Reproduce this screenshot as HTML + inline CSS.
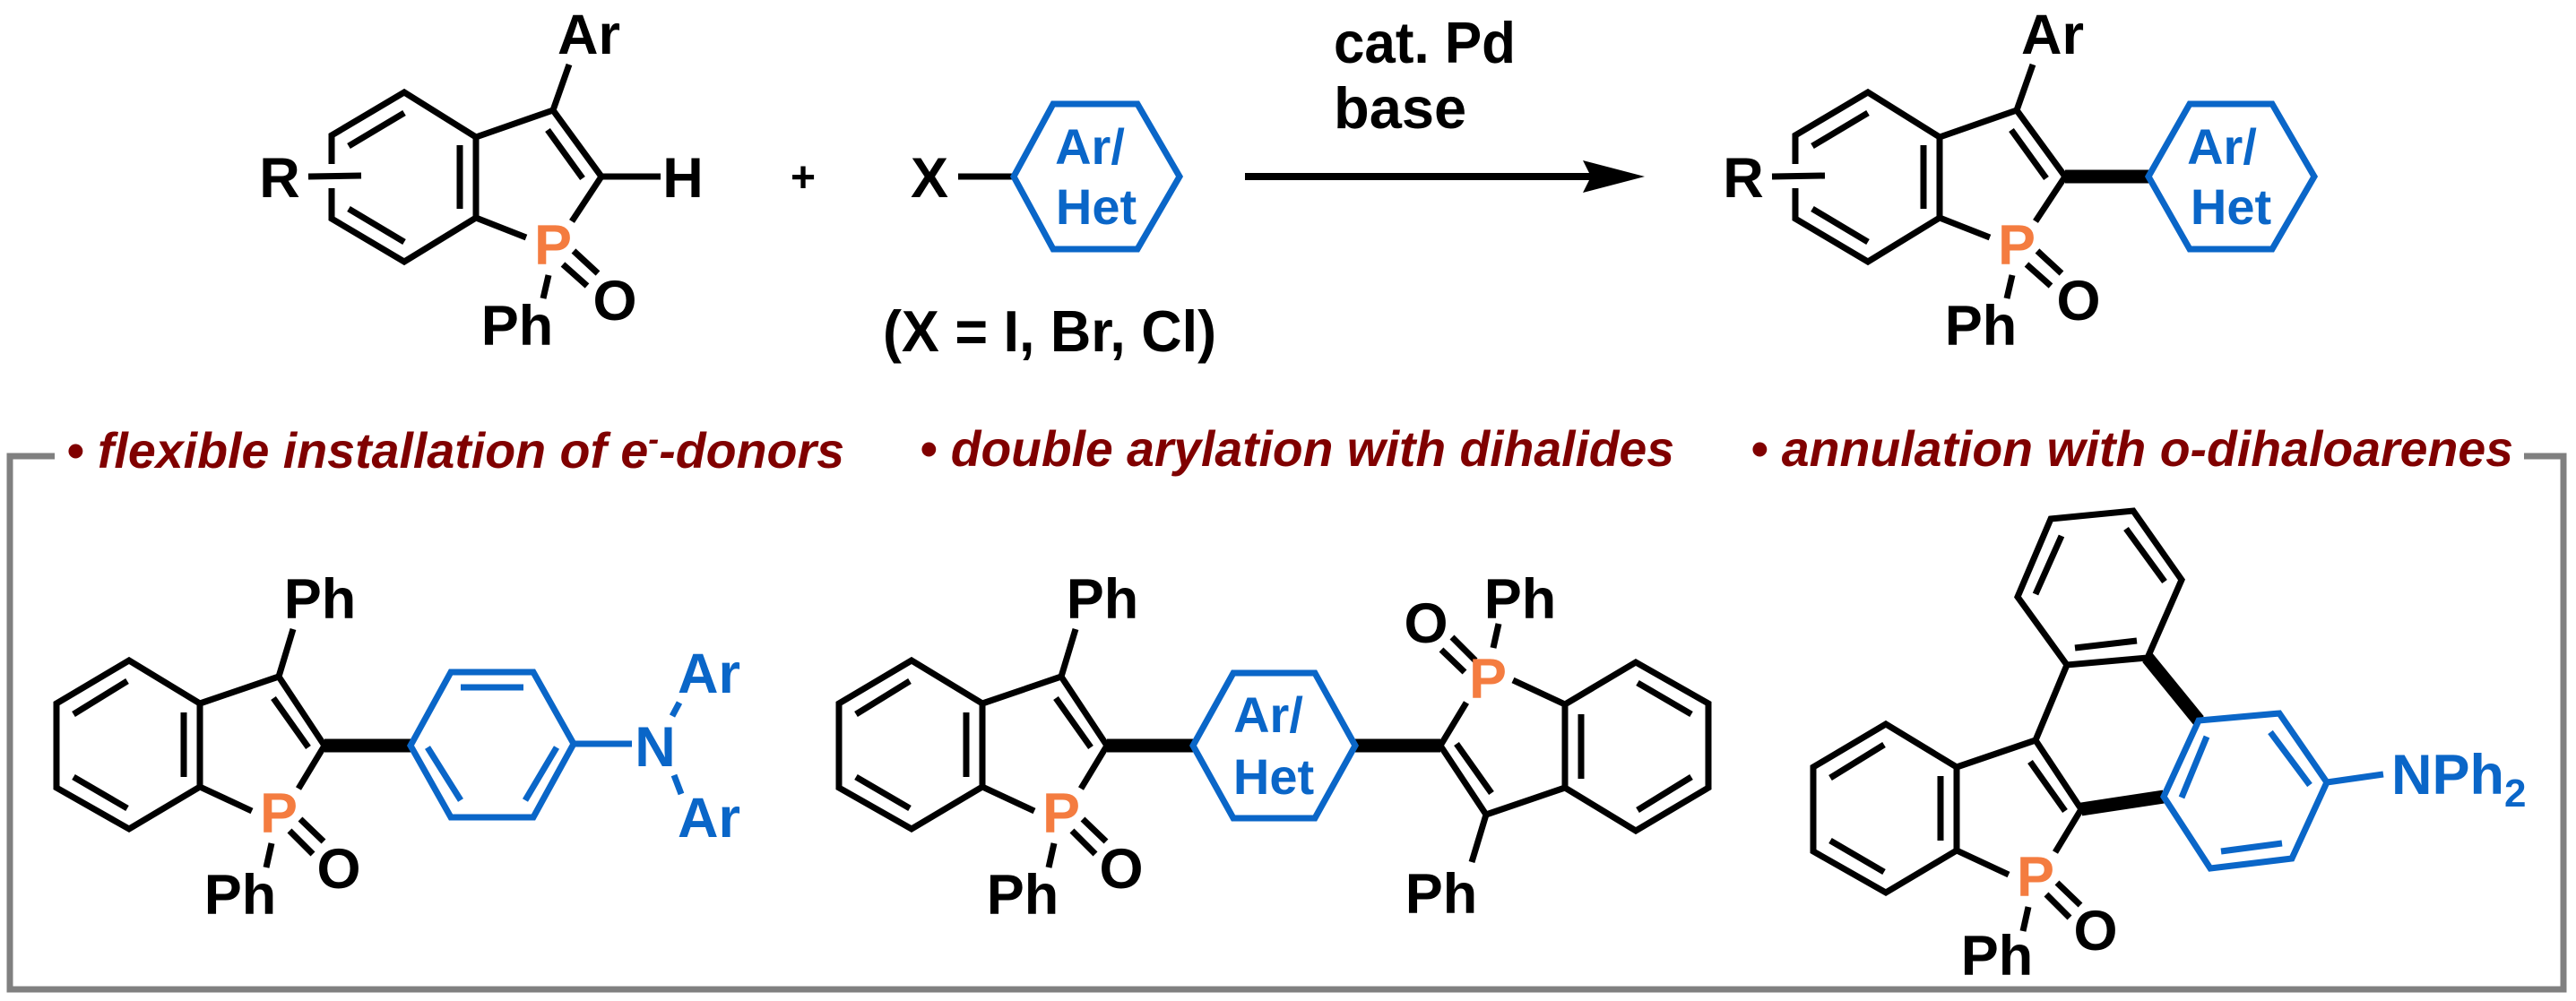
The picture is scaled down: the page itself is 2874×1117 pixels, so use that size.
<!DOCTYPE html>
<html><head><meta charset="utf-8"><style>
html,body{margin:0;padding:0;background:#fff;}
svg{display:block}
text{font-family:"Liberation Sans",Arial,sans-serif;font-weight:bold;}
</style></head><body>
<svg width="2874" height="1117" viewBox="0 0 2874 1117" xmlns="http://www.w3.org/2000/svg">
<defs>
<g id="indT">
 <polyline points="370,183 370,151 451,103 531,153 531,243 451,292 370,244 370,210" fill="none"/>
 <line x1="389" y1="163" x2="451" y2="126"/>
 <line x1="513" y1="162" x2="513" y2="233"/>
 <line x1="389" y1="233" x2="451" y2="270"/>
 <line x1="344" y1="197" x2="403" y2="196"/>
 <line x1="531" y1="153" x2="617" y2="123"/>
 <line x1="617" y1="123" x2="671" y2="197"/>
 <line x1="611" y1="145" x2="650" y2="199"/>
 <line x1="671" y1="197" x2="638" y2="247"/>
 <line x1="531" y1="243" x2="587" y2="265"/>
 <line x1="617" y1="123" x2="635" y2="72"/>
 <line x1="612" y1="307" x2="606" y2="333"/>
 <line x1="628" y1="295" x2="655" y2="319"/>
 <line x1="640" y1="280" x2="667" y2="305"/>
</g>
<g id="indB">
 <polygon points="144,737 223,785 223,878 144,925 63,879 63,785" fill="none"/>
 <line x1="82" y1="797" x2="142" y2="760"/>
 <line x1="82" y1="867" x2="142" y2="902"/>
 <line x1="205" y1="795" x2="205" y2="867"/>
 <line x1="223" y1="785" x2="311" y2="755"/>
 <line x1="311" y1="755" x2="362" y2="832"/>
 <line x1="305" y1="779" x2="344" y2="834"/>
 <line x1="362" y1="832" x2="333" y2="880"/>
 <line x1="223" y1="878" x2="281" y2="905"/>
 <line x1="303" y1="941" x2="297" y2="968"/>
 <line x1="323" y1="927" x2="349" y2="953"/>
 <line x1="335" y1="914" x2="361" y2="939"/>
</g>
</defs>

<path d="M61 509 L11 509 L11 1104 L2860 1104 L2860 509 L2816 509" fill="none" stroke="#808080" stroke-width="7"/>

<g stroke="#000" stroke-width="7" fill="none">
 <use href="#indT"/>
 <line x1="671" y1="197" x2="737" y2="197"/>
 <g transform="translate(1633,0)"><use href="#indT"/></g>
 <line x1="2304" y1="197" x2="2397" y2="197" stroke-width="15"/>
 <line x1="1069" y1="197" x2="1131" y2="197"/>
 <line x1="1389" y1="197" x2="1775" y2="197" stroke-width="8"/>
 <use href="#indB"/>
 <line x1="311" y1="755" x2="327" y2="702"/>
 <line x1="362" y1="832" x2="458" y2="832" stroke-width="15"/>
 <g transform="translate(873,0)"><use href="#indB"/><line x1="311" y1="755" x2="327" y2="702"/></g>
 <g transform="rotate(180,1421,832) translate(873,0)"><use href="#indB"/><line x1="311" y1="755" x2="327" y2="702"/></g>
 <line x1="1235" y1="832" x2="1331" y2="832" stroke-width="15"/>
 <line x1="1512" y1="832" x2="1607" y2="832" stroke-width="15"/>
 <g transform="translate(1960,71)"><use href="#indB"/></g>
 <polygon points="2306,742 2251,666 2288,579 2380,570 2434,647 2396,734"/>
 <line x1="2271" y1="663" x2="2300" y2="598"/>
 <line x1="2372" y1="590" x2="2415" y2="649"/>
 <line x1="2315" y1="723" x2="2384" y2="715"/>
 <line x1="2306" y1="742" x2="2271" y2="826"/>
 <line x1="2396" y1="734" x2="2453" y2="804" stroke-width="15"/>
 <line x1="2322" y1="903" x2="2414" y2="889" stroke-width="15"/>
</g>
<polygon points="1835,197 1766,179 1775,197 1766,215" fill="#000"/>

<g stroke="#0a66c8" stroke-width="7" fill="none">
 <polygon points="1131,197 1175,116 1269,116 1316,197 1269,278 1175,278"/>
 <polygon points="2397,197 2443,116 2535,116 2582,197 2535,278 2443,278"/>
 <polygon points="458,832 503,750 595,750 640,830 595,912 503,912"/>
 <line x1="514" y1="767" x2="584" y2="767"/>
 <line x1="477" y1="834" x2="514" y2="893"/>
 <line x1="621" y1="834" x2="586" y2="893"/>
 <line x1="640" y1="830" x2="705" y2="830"/>
 <line x1="750" y1="799" x2="758" y2="784"/>
 <line x1="752" y1="865" x2="760" y2="886"/>
 <polygon points="1331,832 1376,751 1467,751 1512,832 1467,913 1376,913"/>
 <polygon points="2414,889 2453,804 2543,796 2596,873 2557,958 2466,969"/>
 <line x1="2462" y1="822" x2="2434" y2="890"/>
 <line x1="2533" y1="817" x2="2577" y2="876"/>
 <line x1="2478" y1="950" x2="2546" y2="941"/>
 <line x1="2596" y1="873" x2="2659" y2="864"/>
</g>

<g font-size="63" fill="#000" text-anchor="middle">
 <text x="657" y="60">Ar</text>
 <text x="312" y="220">R</text>
 <text x="762" y="220">H</text>
 <text x="577" y="385">Ph</text>
 <text x="686" y="357">O</text>
 <text x="896" y="214" font-size="48">+</text>
 <text x="1037" y="220">X</text>
 <text x="2290" y="60">Ar</text>
 <text x="1945" y="220">R</text>
 <text x="2210" y="385">Ph</text>
 <text x="2319" y="357">O</text>
 <text x="357" y="690">Ph</text>
 <text x="268" y="1020">Ph</text>
 <text x="378" y="991">O</text>
 <text x="1230" y="690">Ph</text>
 <text x="1141" y="1020">Ph</text>
 <text x="1251" y="991">O</text>
 <text x="1591" y="717">O</text>
 <text x="1696" y="690">Ph</text>
 <text x="1608" y="1019">Ph</text>
 <text x="2228" y="1088">Ph</text>
 <text x="2338" y="1060">O</text>
</g>
<g font-size="65" fill="#000">
 <text x="1488" y="70" textLength="203" lengthAdjust="spacingAndGlyphs">cat. Pd</text>
 <text x="1488" y="143">base</text>
 <text x="985" y="392" textLength="372" lengthAdjust="spacingAndGlyphs">(X = I, Br, Cl)</text>
</g>
<g font-size="63" fill="#f47c40" text-anchor="middle">
 <text x="617" y="295">P</text>
 <text x="2250" y="295">P</text>
 <text x="311" y="929">P</text>
 <text x="1184" y="929">P</text>
 <text x="1660" y="779">P</text>
 <text x="2271" y="1000">P</text>
</g>
<g font-size="56" fill="#0a66c8" text-anchor="middle">
 <text x="1216" y="183">Ar/</text>
 <text x="1223" y="250">Het</text>
 <text x="2479" y="183">Ar/</text>
 <text x="2489" y="250">Het</text>
 <text x="1415" y="817">Ar/</text>
 <text x="1421" y="886">Het</text>
</g>
<g font-size="63" fill="#0a66c8" text-anchor="middle">
 <text x="731" y="855">N</text>
 <text x="791" y="773">Ar</text>
 <text x="791" y="934">Ar</text>
</g>
<text x="2668" y="886" font-size="63" fill="#0a66c8">NPh<tspan font-size="44" dy="14">2</tspan></text>

<g font-size="56" fill="#800000" font-style="italic">
 <text x="74" y="522" textLength="868" lengthAdjust="spacingAndGlyphs">• flexible installation of e<tspan dy="-20" font-size="36">-</tspan><tspan dy="20">-donors</tspan></text>
 <text x="1026" y="520" textLength="842" lengthAdjust="spacingAndGlyphs">• double arylation with dihalides</text>
 <text x="1953" y="520" textLength="851" lengthAdjust="spacingAndGlyphs">• annulation with o-dihaloarenes</text>
</g>
</svg>
</body></html>
